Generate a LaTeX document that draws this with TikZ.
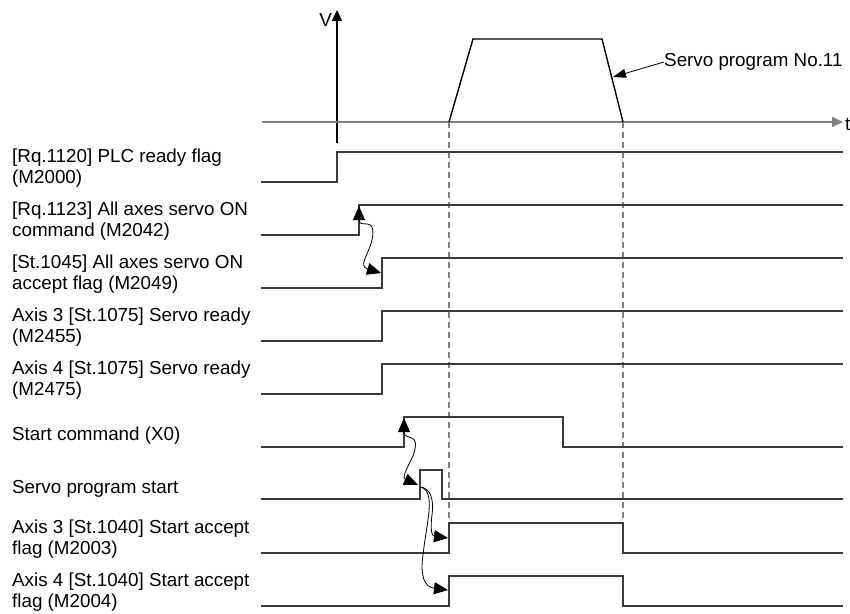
\documentclass[tikz,border=0pt]{standalone}
\usepackage{fontspec}
\setmainfont{Liberation Sans}
\usetikzlibrary{arrows.meta}
\definecolor{sig}{HTML}{3A3A3A}
\definecolor{axisgray}{HTML}{808080}
\begin{document}
\begin{tikzpicture}[x=1pt,y=-1pt,
  lbl/.style={anchor=west,align=left,inner sep=0pt,font=\fontsize{18.8}{21}\selectfont},
  sigline/.style={draw=sig,line width=1.8pt,line join=miter},
  guide/.style={draw=axisgray,line width=1.2pt,dash pattern=on 6pt off 4pt},
  cause/.style={draw=black,line width=0.8pt,{Triangle[length=14pt,width=12pt]}-{Triangle[length=14pt,width=12pt]}},
  causeone/.style={draw=black,line width=0.8pt,-{Triangle[length=14pt,width=12pt]}}]
\useasboundingbox (0,0) rectangle (850,613);

% ---------- axes ----------
\coordinate (vbot) at (337,143);
\coordinate (vtop) at (337,10);
\coordinate (tl) at (262,122);
\coordinate (tr) at (843,122);
\draw[line width=1.2pt,-{Triangle[length=11pt,width=10pt]}] (vbot) -- (vtop);
\node[lbl,anchor=east] (vlab) at (332,20) {V};
\draw[axisgray,line width=1.5pt,-{Triangle[length=11pt,width=10pt]}] (tl) -- (tr);
\node[lbl] (tlab) at (845,124) {t};

% ---------- velocity profile ----------
\coordinate (p0) at (449,122);
\coordinate (p1) at (473,39);
\coordinate (p2) at (602,39);
\coordinate (p3) at (623,122);
\draw[black,line width=1.4pt,line join=miter] (p0) -- (p1) -- (p2) -- (p3);
\node[lbl] (splab) at (664,62) {Servo program No.11};
\coordinate (sparrow) at (613,77);
\draw[black,line width=0.8pt,-{Triangle[length=13pt,width=9pt]}] (splab.west) -- (sparrow);

% ---------- guide lines ----------
\coordinate (g1b) at (449,523);
\coordinate (g2b) at (623,523);
\draw[guide] (p0) -- (g1b);
\draw[guide] (p3) -- (g2b);

% ---------- signals ----------
\draw[sigline] (261,182) -- (337,182) -- (337,152) -- (843,152);
\draw[sigline] (261,235) -- (359,235) -- (359,205) -- (843,205);
\draw[sigline] (261,288) -- (382,288) -- (382,258) -- (843,258);
\draw[sigline] (261,341) -- (382,341) -- (382,311) -- (843,311);
\draw[sigline] (261,394) -- (382,394) -- (382,364) -- (843,364);
\draw[sigline] (261,447) -- (404,447) -- (404,417) -- (563,417) -- (563,447) -- (843,447);
\draw[sigline] (261,499) -- (420,499) -- (420,470) -- (442,470) -- (442,499) -- (843,499);
\draw[sigline] (261,553) -- (449,553) -- (449,523) -- (623,523) -- (623,553) -- (843,553);
\draw[sigline] (261,606) -- (449,606) -- (449,576) -- (623,576) -- (623,606) -- (843,606);

% ---------- labels ----------
\node[lbl] (l1) at (12,168) {[Rq.1120] PLC ready flag\\(M2000)};
\node[lbl] (l2) at (12,221) {[Rq.1123] All axes servo ON\\command (M2042)};
\node[lbl] (l3) at (12,274) {[St.1045] All axes servo ON\\accept flag (M2049)};
\node[lbl] (l4) at (12,327) {Axis 3 [St.1075] Servo ready\\(M2455)};
\node[lbl] (l5) at (12,380) {Axis 4 [St.1075] Servo ready\\(M2475)};
\node[lbl] (l6) at (12,436) {Start command (X0)};
\node[lbl] (l7) at (12,489) {Servo program start};
\node[lbl] (l8) at (12,539) {Axis 3 [St.1040] Start accept\\flag (M2003)};
\node[lbl] (l9) at (12,592) {Axis 4 [St.1040] Start accept\\flag (M2004)};

% ---------- cause arrows ----------
\coordinate (a1s) at (359,206);
\coordinate (a1e) at (381,273);
\draw[cause] (a1s) .. controls (359,230) and (377,214) .. (372,240)
              .. controls (368,256) and (358,266) .. (a1e);
\coordinate (a2s) at (404,418);
\coordinate (a2e) at (418,485);
\draw[cause] (a2s) .. controls (404,442) and (422,430) .. (413,456)
              .. controls (405,472) and (402,478) .. (a2e);
\coordinate (a3s) at (420,487);
\coordinate (a3e) at (448,538);
\coordinate (a4e) at (448,590);
\draw[causeone] (a3s) .. controls (431,488) and (434,500) .. (432,515)
              .. controls (430,530) and (432,536) .. (a3e);
\draw[causeone] (a3s) .. controls (437,490) and (426,525) .. (423,555)
              .. controls (420,575) and (424,587) .. (a4e);
\end{tikzpicture}
\end{document}
